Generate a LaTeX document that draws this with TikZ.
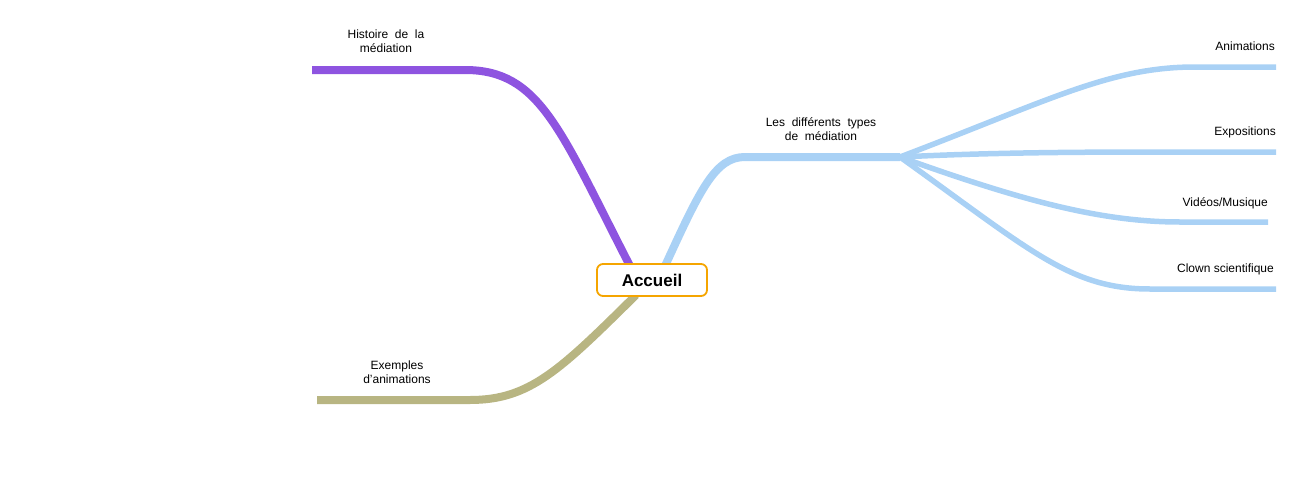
\documentclass[tikz,border=0pt]{standalone}
\usepackage{fontspec}
\setmainfont{Liberation Sans}
\definecolor{purp}{HTML}{8E54E0}
\definecolor{oliv}{HTML}{B8B582}
\definecolor{lblue}{HTML}{A9D1F5}
\definecolor{orng}{HTML}{F5A500}
\begin{document}
\begin{tikzpicture}[x=1pt,y=-1pt,
  lbl/.style={font=\fontsize{12}{13.5}\selectfont,align=center,inner sep=0pt},
  br/.style={line width=8pt},
  sub/.style={line width=5.5pt,lblue},
  accbox/.style={draw=orng,line width=1.8pt,rounded corners=6pt,fill=white,minimum width=110pt,minimum height=32pt,font=\fontsize{17}{19}\selectfont\bfseries}]
\useasboundingbox (0,0) rectangle (1302,498);
\coordinate (p1) at (465,70); \coordinate (p0) at (312,70);
\coordinate (o1) at (470,400); \coordinate (o0) at (317,400);
\coordinate (b1) at (745,157); \coordinate (b2) at (900,157);
\coordinate (a1) at (1195,67); \coordinate (a2) at (1276,67);
\coordinate (e1) at (1180,152); \coordinate (e2) at (1276,152);
\coordinate (v1) at (1180,222); \coordinate (v2) at (1268,222);
\coordinate (c1) at (1150,289); \coordinate (c2) at (1276,289);
\draw[br,purp] (630,266) .. controls (560,130) and (540,70) .. (p1) -- (p0);
\draw[br,oliv] (636,295) .. controls (560,370) and (530,400) .. (o1) -- (o0);
\draw[br,lblue] (665,266) .. controls (700,190) and (715,157) .. (b1) -- (b2);
\draw[sub] (b2) .. controls (1050,100) and (1110,67) .. (a1) -- (a2);
\draw[sub] (b2) .. controls (1000,152) and (1100,152) .. (e1) -- (e2);
\draw[sub] (b2) .. controls (1020,200) and (1100,222) .. (v1) -- (v2);
\draw[sub] (b2) .. controls (1030,250) and (1070,289) .. (c1) -- (c2);
\node[accbox] (acc) at (652,280) {Accueil};
\node[lbl] (t1) at (386,41) {Histoire~ de~ la\\médiation};
\node[lbl] (t2) at (397,372) {Exemples\\d'animations};
\node[lbl] (t3) at (821,129) {Les~ différents~ types\\de~ médiation};
\node[lbl,anchor=east] (t4) at (1275,46) {Animations};
\node[lbl,anchor=east] (t5) at (1276,132) {Expositions};
\node[lbl,anchor=east] (t6) at (1268,203) {Vidéos/Musique};
\node[lbl,anchor=east] (t7) at (1274,269) {Clown scientifique};
\end{tikzpicture}
\end{document}
